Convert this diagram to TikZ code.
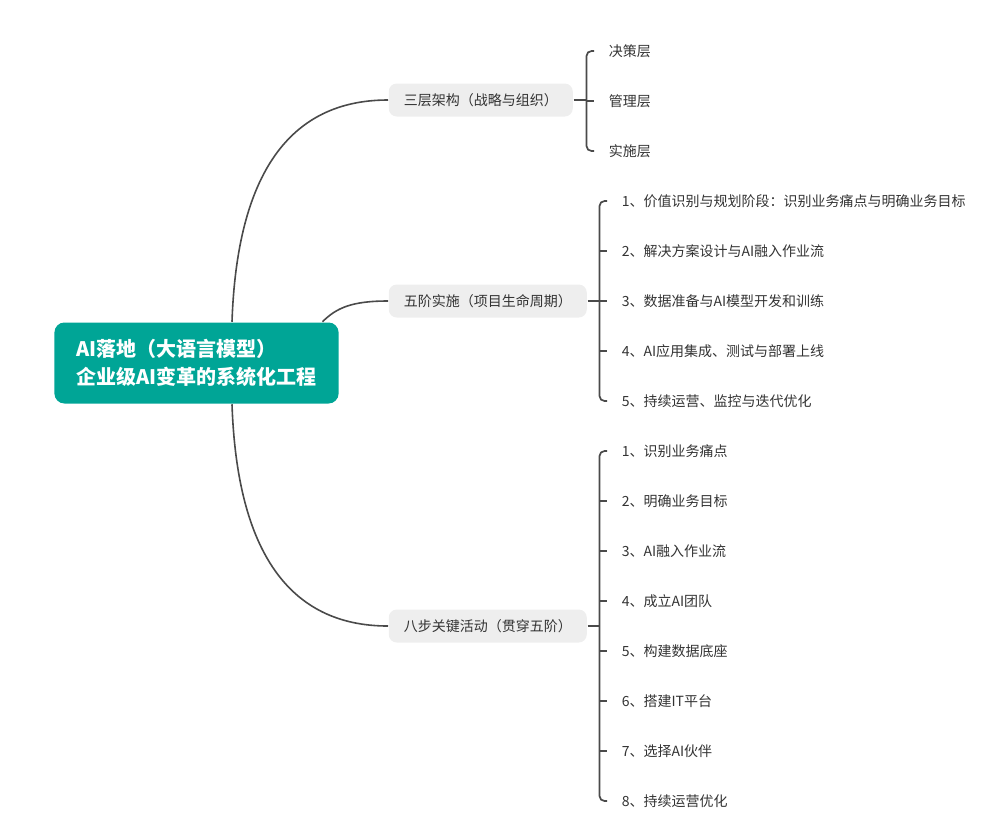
\documentclass[tikz,border=0pt]{standalone}
\usepackage{fontspec}
\setmainfont{Noto Sans CJK SC}
\usetikzlibrary{positioning, calc}
\definecolor{cteal}{HTML}{00A596}
\definecolor{cline}{HTML}{4A4A4A}
\definecolor{ctopic}{HTML}{EEEEEE}
\definecolor{ctext}{HTML}{333333}
\tikzset{
  every picture/.style={line width=1.5pt},
  rootbox/.style={fill=cteal, text=white, rounded corners=10pt, align=left, inner xsep=22pt,
    minimum width=283pt, minimum height=81pt, font=\fontsize{20}{28}\selectfont\bfseries},
  topic/.style={fill=ctopic, text=ctext, rounded corners=8pt, inner xsep=15pt, minimum height=33pt,
    anchor=west, font=\fontsize{14}{16}\selectfont},
  leaf/.style={text=ctext, anchor=west, inner xsep=14pt, inner ysep=2pt, font=\fontsize{14}{16}\selectfont},
  link/.style={draw=cline, line width=1.6pt},
  stub/.style={draw=cline, line width=2.6pt},
  brace/.style={draw=cline, line width=1.7pt, rounded corners=5pt},
}
\begin{document}
\begin{tikzpicture}[x=1pt, y=-1pt]
  \useasboundingbox (0,0) rectangle (981,820);
  \node[rootbox] (root) at (196.5,363) {AI落地（大语言模型）\\企业级AI变革的系统化工程};

  \node[topic] (arch) at (388,100) {三层架构（战略与组织）};
  \node[topic] (phase) at (388,301) {五阶实施（项目生命周期）};
  \node[topic] (acts) at (388,626) {八步关键活动（贯穿五阶）};

  % curves from the root
  \draw[link] ([xshift=35.5pt]root.north) .. controls +(5,-147) and +(-99,0) .. (arch.west);
  \draw[link] ([xshift=126pt]root.north) .. controls +(14,-14) and +(-36,0) .. (phase.west);
  \draw[link] ([xshift=35.5pt]root.south) .. controls +(5,147) and +(-99,0) .. (acts.west);

  % leaves
  \foreach \t [count=\i] in {决策层, 管理层, 实施层}
    \node[leaf] (arch-\i) at (594,1+50*\i) {\t};
  \foreach \t [count=\i] in {1、价值识别与规划阶段：识别业务痛点与明确业务目标, 2、解决方案设计与AI融入作业流,
      3、数据准备与AI模型开发和训练, 4、AI应用集成、测试与部署上线, 5、持续运营、监控与迭代优化}
    \node[leaf] (phase-\i) at (607,151+50*\i) {\t};
  \foreach \t [count=\i] in {1、识别业务痛点, 2、明确业务目标, 3、AI融入作业流, 4、成立AI团队,
      5、构建数据底座, 6、搭建IT平台, 7、选择AI伙伴, 8、持续运营优化}
    \node[leaf] (acts-\i) at (607,401+50*\i) {\t};

  % brackets
  \draw[stub] (arch.east) -- ++(13,0) coordinate (arch-j);
  \draw[brace] (arch-1.west) -| (arch-j) |- (arch-3.west);
  \draw[brace] (arch-j |- arch-2.west) -- (arch-2.west);

  \draw[stub] (phase.east) -- ++(12,0) coordinate (phase-j);
  \draw[brace] (phase-1.west) -| (phase-j) |- (phase-5.west);
  \foreach \i in {2,3,4}
    \draw[brace] (phase-j |- phase-\i.west) -- (phase-\i.west);

  \draw[stub] (acts.east) -- ++(12,0) coordinate (acts-j);
  \draw[brace] (acts-1.west) -| (acts-j) |- (acts-8.west);
  \foreach \i in {2,...,7}
    \draw[brace] (acts-j |- acts-\i.west) -- (acts-\i.west);
\end{tikzpicture}
\end{document}
